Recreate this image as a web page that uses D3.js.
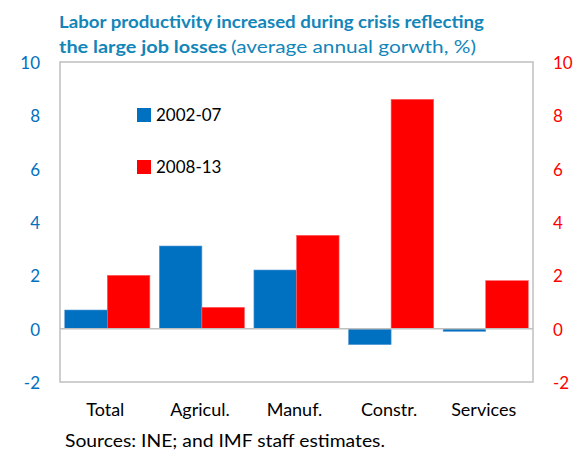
<!DOCTYPE html>
<html>
<head>
<meta charset="utf-8">
<script src="https://cdn.jsdelivr.net/npm/d3@7"></script>
<style>
  body { margin: 0; background: #fff; }
  text { font-family: Lato, "Open Sans", sans-serif; }
</style>
</head>
<body>
<div id="chart"></div>
<script>
var categories = ["Total", "Agricul.", "Manuf.", "Constr.", "Services"];
var seriesNames = ["2002-07", "2008-13"];
var values0207 = [0.7, 3.1, 2.2, -0.6, -0.1];
var values0813 = [2.0, 0.8, 3.5, 8.6, 1.8];
var tickValues = [-2, 0, 2, 4, 6, 8, 10];
var colors = ["#0070C0", "#FF0000"];

var width = 574, height = 451;
var plotLeft = 60, plotRight = 533, plotTop = 62, plotBottom = 382;

var svg = d3.select("#chart").append("svg")
            .attr("width", width)
            .attr("height", height);

var x = d3.scaleBand().domain(categories).range([plotLeft, plotRight]).paddingInner(0.1).paddingOuter(0.05);
var xs = d3.scaleBand().domain(seriesNames).range([0, x.bandwidth()]);
var y = d3.scaleLinear().domain([-2, 10]).range([plotBottom, plotTop]);
var plainNum = function(d) { return String(d); };

// title
var title = svg.append("text").attr("fill", "#1286B9").attr("font-size", "17px");
title.append("tspan").attr("x", 59).attr("y", 28)
     .attr("font-weight", "bold")
     .attr("textLength", 425).attr("lengthAdjust", "spacingAndGlyphs")
     .text("Labor productivity increased during crisis reflecting");
var t2 = svg.append("text").attr("fill", "#1286B9").attr("font-size", "17px").attr("x", 59).attr("y", 53);
t2.append("tspan").attr("font-weight", "bold")
  .attr("textLength", 168).attr("lengthAdjust", "spacingAndGlyphs")
  .text("the large job losses");
t2.append("tspan").attr("dx", 4)
  .attr("textLength", 245).attr("lengthAdjust", "spacingAndGlyphs")
  .text("(average annual gorwth, %)");

// bars
var rows = categories.map(function(c, i) {
  return [{cat: c, s: seriesNames[0], v: values0207[i], col: colors[0]},
          {cat: c, s: seriesNames[1], v: values0813[i], col: colors[1]}];
});
svg.append("g").selectAll("g").data(rows).enter().append("g")
   .attr("transform", function(d) { return "translate(" + x(d[0].cat) + ",0)"; })
   .selectAll("rect").data(function(d) { return d; }).enter().append("rect")
   .attr("x", function(d) { return xs(d.s); })
   .attr("width", xs.bandwidth())
   .attr("y", function(d) { return y(Math.max(0, d.v)); })
   .attr("height", function(d) { return Math.abs(y(d.v) - y(0)); })
   .attr("fill", function(d) { return d.col; })
   .attr("stroke", function(d) { return d.col === colors[0] ? "#5B9BD5" : "#FF6060"; })
   .attr("stroke-width", 0.6);

// zero line and frame
svg.append("line").attr("x1", plotLeft).attr("x2", plotRight)
   .attr("y1", y(0)).attr("y2", y(0))
   .attr("stroke", "#BFBFBF").attr("stroke-width", 1.5);
svg.append("rect").attr("x", plotLeft).attr("y", plotTop)
   .attr("width", plotRight - plotLeft).attr("height", plotBottom - plotTop)
   .attr("fill", "none").attr("stroke", "#BFBFBF").attr("stroke-width", 1.5);

// left axis
var yl = svg.append("g").attr("transform", "translate(" + (plotLeft - 20) + ",1)")
            .call(d3.axisLeft(y).tickValues(tickValues).tickFormat(plainNum).tickSize(0).tickPadding(0));
yl.select(".domain").remove();
yl.selectAll("text").attr("fill", colors[0]).attr("font-size", "17px")
  .style("font-family", "Lato, 'Open Sans', sans-serif");

// right axis
var yr = svg.append("g").attr("transform", "translate(" + (plotRight + 20) + ",1)")
            .call(d3.axisRight(y).tickValues(tickValues).tickFormat(plainNum).tickSize(0).tickPadding(0));
yr.select(".domain").remove();
yr.selectAll("text").attr("fill", colors[1]).attr("font-size", "17px")
  .style("font-family", "Lato, 'Open Sans', sans-serif");

// category labels
var xa = svg.append("g").attr("transform", "translate(-2," + (plotBottom + 21) + ")")
            .call(d3.axisBottom(x).tickSize(0).tickPadding(0));
xa.select(".domain").remove();
xa.selectAll("text").attr("fill", "#000").attr("font-size", "18px")
  .style("font-family", "Lato, 'Open Sans', sans-serif");

// legend
var legend = svg.append("g").selectAll("g").data(seriesNames).enter().append("g")
   .attr("transform", function(d, i) { return "translate(137," + (108 + i * 52) + ")"; });
legend.append("rect").attr("width", 14).attr("height", 14)
      .attr("fill", function(d, i) { return colors[i]; });
legend.append("text").attr("x", 19).attr("y", 13)
      .attr("font-size", "17px").attr("fill", "#000")
      .text(function(d) { return d; });

// source
svg.append("text").attr("x", 65).attr("y", 447)
   .attr("font-size", "17px").attr("fill", "#000")
   .attr("textLength", 320).attr("lengthAdjust", "spacingAndGlyphs")
   .text("Sources: INE; and IMF staff estimates.");
</script>
</body>
</html>
